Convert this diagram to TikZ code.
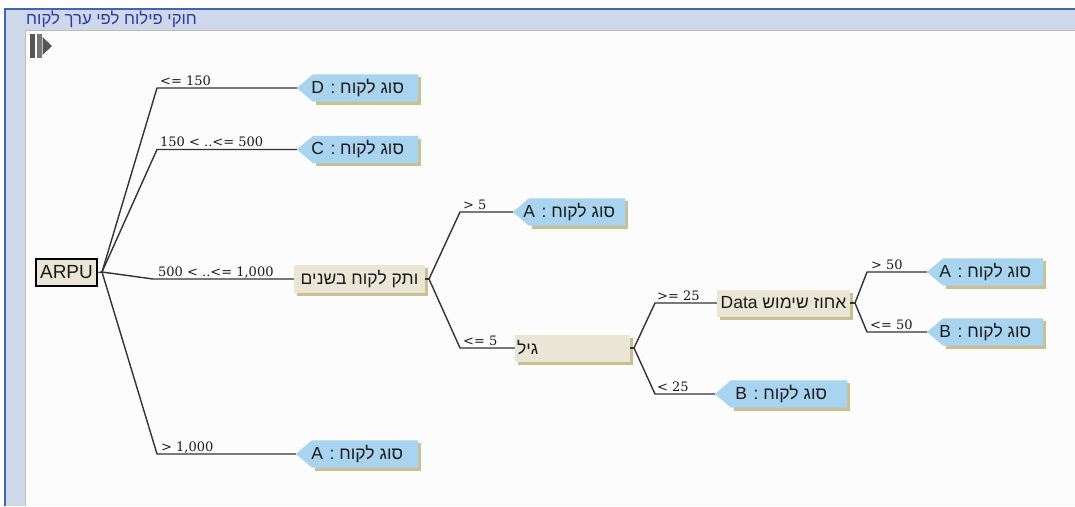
\documentclass[tikz,border=0pt]{standalone}
\usepackage{fontspec}
\setmainfont{Liberation Sans}
\newfontfamily\heb[Script=Hebrew]{Liberation Sans}
\newfontfamily\lblfont{DejaVu Serif}
\TeXXeTstate=1
\usetikzlibrary{calc,shadows}
\pgfdeclarelayer{bg}
\pgfsetlayers{bg,main}
\definecolor{frameblue}{HTML}{3F67B5}
\definecolor{framefill}{HTML}{CFD8EB}
\definecolor{innerline}{HTML}{BDBDB3}
\definecolor{canvasc}{HTML}{FCFCFC}
\definecolor{titleblue}{HTML}{2A3C9E}
\definecolor{wirec}{HTML}{333333}
\definecolor{leafblue}{HTML}{A8D4EF}
\definecolor{shadowtan}{HTML}{C9BF90}
\definecolor{beige}{HTML}{E9E6D6}
\definecolor{textc}{HTML}{1A1A1A}
\definecolor{icongray}{HTML}{555555}
\tikzset{
 wire/.style={draw=wirec, line width=1.4pt, line join=round},
 lbl/.style={font=\lblfont\fontsize{13}{13}\selectfont, text=textc, inner sep=0pt, anchor=base west},
 leaftext/.style={font=\heb\fontsize{17.5}{17.5}\selectfont, text=textc, minimum height=27pt, inner sep=0pt},
 leafshape/.style={fill=leafblue},
 leafshadow/.style={fill=shadowtan},
 decbox/.style={font=\heb\fontsize{17.5}{17.5}\selectfont, text=textc, fill=beige, minimum height=28pt, inner sep=0pt,
   drop shadow={shadow xshift=3pt, shadow yshift=-3pt, fill=shadowtan, opacity=1}},
 rootbox/.style={font=\fontsize{19}{19}\selectfont, text=textc, fill=beige, draw=black, line width=2.8pt,
   minimum width=61pt, minimum height=27pt, inner sep=0pt},
}
\newcommand\leafnode[5]{%
 \node[leaftext, minimum width={#3-#2}, anchor=west] (#1) at (#2,#4) {\beginR סוג לקוח : #5\endR};
 \coordinate (#1-tip) at (#1.west);
 \begin{pgfonlayer}{bg}
 \fill[leafshadow] ([shift={(19,3)}]#1.north west) rectangle ([shift={(3,3)}]#1.south east);
 \fill[leafshape] (#1.west) -- ([xshift=16pt]#1.north west) -- (#1.north east) -- (#1.south east) -- ([xshift=16pt]#1.south west) -- cycle;
 \end{pgfonlayer}}
\begin{document}
\begin{tikzpicture}[x=1pt,y=-1pt]
\useasboundingbox (0,0) rectangle (1075,506);
\begin{pgfonlayer}{bg}
\fill[white] (0,0) rectangle (1075,506);
\fill[framefill] (5,9) rectangle (1075,506);
\draw[frameblue, line width=1.5pt] (5,506) -- (5,9) -- (1075,9);
\fill[canvasc] (25.5,30.5) rectangle (1075,506);
\draw[innerline, line width=1.5pt] (25.5,506) -- (25.5,30.5) -- (1075,30.5);
\end{pgfonlayer}
% title and icon
\node[anchor=west, inner sep=0pt, text=titleblue, font=\heb\fontsize{16.7}{16.7}\selectfont] (title) at (26,19.5) {\beginR חוקי פילוח לפי ערך לקוח\endR};
\fill[icongray] (30,34) rectangle (35,58);
\fill[icongray!80] (36.5,34) rectangle (41.5,58);
\fill[icongray] (42.5,37) -- (52,46) -- (42.5,55) -- cycle;
% nodes
\node[rootbox] (arpu) at (66.5,272.5) {ARPU};
\node[decbox, minimum width=131pt] (tenure) at (359.5,279) {\beginR ותק לקוח בשנים\endR};
\node[decbox, minimum width=115pt, minimum height=27pt, text width=111pt, inner xsep=2pt, align=left] (age) at (572.5,348) {\beginR גיל\endR};
\node[decbox, minimum width=133pt, minimum height=27pt] (data) at (783.5,303) {\beginR אחוז שימוש \beginL Data\endL\endR};
\leafnode{lD}{297}{418}{88}{D}
\leafnode{lC}{297}{418}{149.5}{C}
\leafnode{lA1}{513}{625}{212}{A}
\leafnode{lA4}{296}{418}{454}{A}
\leafnode{lA2}{927}{1043}{272}{A}
\leafnode{lB1}{927}{1043}{332}{B}
\leafnode{lB2}{715}{847}{394}{B}
% branch points and elbows
\coordinate (root) at (102,272);
\coordinate (eD) at (157,88);
\coordinate (eC) at (157,149.5);
\coordinate (eT) at (153,279);
\coordinate (eA4) at (157,454);
\coordinate (b1) at (429,279);
\coordinate (eA1) at (460,212);
\coordinate (eAge) at (460,348);
\coordinate (b2) at (634,348);
\coordinate (eData) at (655,303);
\coordinate (eB2) at (655,394);
\coordinate (b3) at (855,303);
\coordinate (eA2) at (867,272);
\coordinate (eB1) at (867,332);
% connectors
\draw[wire] (arpu.east) -- (root);
\draw[wire] (root) -- (eD) -- (lD-tip);
\draw[wire] (root) -- (eC) -- (lC-tip);
\draw[wire] (root) -- (eT) -- (tenure.west);
\draw[wire] (root) -- (eA4) -- (lA4-tip);
\draw[wire] (tenure.east) -- (b1);
\draw[wire] (b1) -- (eA1) -- (lA1-tip);
\draw[wire] (b1) -- (eAge) -- (age.west);
\draw[wire] (age.east) -- (b2);
\draw[wire] (b2) -- (eData) -- (data.west);
\draw[wire] (b2) -- (eB2) -- (lB2-tip);
\draw[wire] (data.east) -- (b3);
\draw[wire] (b3) -- (eA2) -- (lA2-tip);
\draw[wire] (b3) -- (eB1) -- (lB1-tip);
% labels
\node[lbl] (tD) at ([shift={(3,-3)}]eD) {<= 150};
\node[lbl] (tC) at ([shift={(3,-3)}]eC) {150 < ..<= 500};
\node[lbl] (tT) at ([shift={(5,-3)}]eT) {500 < ..<= 1,000};
\node[lbl] (tA4) at ([shift={(4,-3)}]eA4) {> 1,000};
\node[lbl] (tA1) at ([shift={(3,-3)}]eA1) {> 5};
\node[lbl] (tAge) at ([shift={(3,-3)}]eAge) {<= 5};
\node[lbl] (tData) at ([shift={(2,-3)}]eData) {>= 25};
\node[lbl] (tB2) at ([shift={(2,-3)}]eB2) {< 25};
\node[lbl] (tA2) at ([shift={(4,-3)}]eA2) {> 50};
\node[lbl] (tB1) at ([shift={(3,-3)}]eB1) {<= 50};
\end{tikzpicture}
\end{document}
